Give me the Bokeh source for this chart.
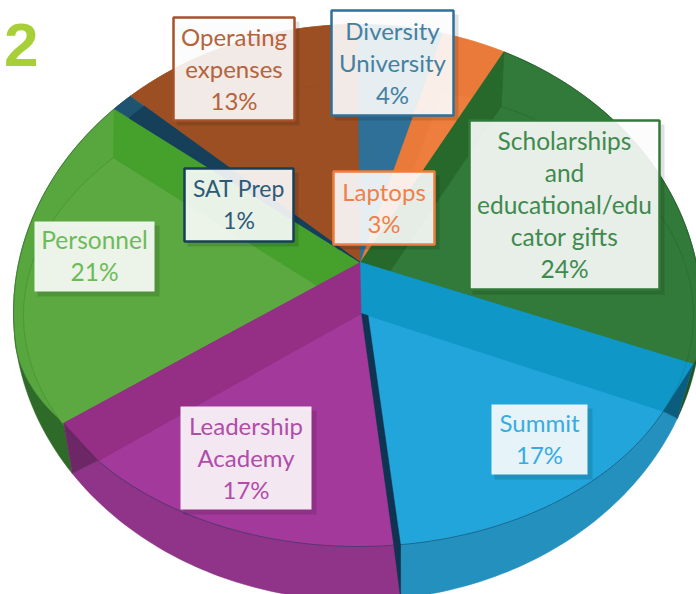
import numpy as np
from bokeh.plotting import figure
from bokeh.embed import file_html
from bokeh.resources import INLINE
from bokeh.core.properties import value

# ---- data (clockwise from the top of the pie)
categories = ["Diversity University", "Laptops", "Scholarships and educational/educator gifts",
              "Summit", "Leadership Academy", "Personnel", "SAT Prep", "Operating expenses"]
shares = [4, 3, 24, 17, 17, 21, 1, 13]
label_lines = [["Diversity", "University", "4%"], ["Laptops", "3%"],
               ["Scholarships", "and", "educational/edu", "cator gifts", "24%"],
               ["Summit", "17%"], ["Leadership", "Academy", "17%"],
               ["Personnel", "21%"], ["SAT Prep", "1%"], ["Operating", "expenses", "13%"]]
corner_text = "2"

# ---- colours (same order)
face = ["#2F7098", "#EE7E3E", "#317A39", "#22A5DB", "#A3399A", "#5CA941", "#163F59", "#9C4F23"]
ring = ["#2F7098", "#EA7A3A", "#317A39", "#0F97C8", "#93307F", "#57A73E", "#1F5470", "#9C4F23"]
band = ["#2C6A92", "#E06F30", "#27682B", "#0F97C8", "#952F85", "#45A02C", "#163F59", "#984B20"]
wall = ["#2F7098", "#EA7A3A", "#1E5426", "#2490BE", "#8F3488", "#2E6B28", "#163F59", "#9C4F23"]
ink = ["#44819F", "#EF8049", "#3F8A4E", "#38ACE0", "#B14DA9", "#6DBB58", "#2C5B78", "#B5633B"]
edge = ["#2F7098", "#EE7E3E", "#317A39", None, None, None, "#163F59", "#A8512A"]

# ---- layout (page pixels)
W, H = 696, 594
APEX = (360, 262)
VERTEX = (361, 313)
E1 = (357, 312, 344, 288)
E0 = (360, 250, 358, 309)
E2 = (358, 315, 335, 231)
boxes = [(331, 10, 453, 115), (333, 171, 434, 244), (469, 120, 659, 289), (491, 404, 587, 474),
         (180, 406, 311, 509), (34, 221, 154, 291), (184, 168, 293, 241), (173, 17, 294, 120)]
LEAD = 32
FONT_PX = ["24px", "24px", "24.5px", "24px", "24px", "24.5px", "23px", "24px"]


def warp(d):
    return np.interp(d, [0, 111.6, 172.8, 234, 309.6, 313.2, 360],
                     [0, 111.6, 172.8, 236, 315, 318.7, 360])


def warp2(d):
    return np.interp(d, [0, 25.2, 111.6, 172.8, 234, 309.6, 360],
                     [0, 25.2, 114.5, 172.8, 231, 313, 360])


def ell(e, d):
    t = np.radians(d)
    return e[0] + e[2] * np.sin(t), e[1] - e[3] * np.cos(t)


def rim(d):
    x1, y1 = ell(E1, d)
    x0, y0 = ell(E0, d)
    w = np.interp(d, [0, 80, 111.6, 236, 265, 360], [0, 0, 1, 1, 0, 0])
    return x1 + w * (x0 - x1), y1 + w * (y0 - y1)


def inner(d):
    return ell(E2, warp2(d))


def cross(a, b, c, d):
    ax, ay = a; bx, by = b; cx, cy = c; dx, dy = d
    rx, ry = bx - ax, by - ay
    sx, sy = dx - cx, dy - cy
    u = ((cx - ax) * sy - (cy - ay) * sx) / (rx * sy - ry * sx)
    return ax + u * rx, ay + u * ry


cum = np.concatenate([[0], np.cumsum(shares)]) * 3.6
layers = []


def poly(xs, ys, col):
    layers.append((list(map(float, xs)), list(map(float, ys)), col))


def body(i):
    ds0 = np.linspace(cum[i], cum[i + 1], 60)
    ds = warp(ds0)
    x, y = rim(ds)
    poly([APEX[0], *x], [APEX[1], *y], ring[i])
    x1, y1 = ell(E1, ds)
    if i in (3, 4):
        x2, y2 = inner(ds0)
    else:
        x2, y2 = x, y
    poly([*x1, *x2[::-1]], [*y1, *y2[::-1]], wall[i])


def top(i, band_at=None):
    a, b = cum[i], cum[i + 1]
    ds = np.linspace(a + (1.2 if i == 4 else 0), b, 60)
    x, y = inner(ds)
    poly([VERTEX[0], *x], [VERTEX[1], *y], face[i])
    if band_at is not None:
        d = cum[band_at]
        wd = warp(d)
        rx, ry = rim(wd)
        ex, ey = inner(d)
        poly([APEX[0], rx, ex, VERTEX[0]], [APEX[1], ry, ey, VERTEX[1]], band[i])
        bx, by = ell(E1, wd)
        if i in (3, 4):
            poly([rx, ex, bx], [ry, ey, by], "#0C5C7E" if i == 3 else "#6E2766")


body(7); top(7)
body(5); top(5, band_at=6)
body(6)
sat_x, sat_y = rim(warp(np.linspace(cum[6], cum[7], 8)))
poly([APEX[0], *(APEX[0] + 0.94 * (sat_x - APEX[0]))], [APEX[1], *(APEX[1] + 0.94 * (sat_y - APEX[1]))], face[6])
body(0); top(0)
body(1); top(1)
body(2); top(2, band_at=2)
body(4); top(4, band_at=5)
body(3); top(3, band_at=3)

# dark cut along the Summit / Leadership edge
sx, sy = inner(cum[4])
px, py = inner(cum[4] + 1.2)
qx, qy = inner(cum[3])
X = cross(APEX, (sx, sy), VERTEX, (qx, qy))
bx, by = ell(E1, cum[4])
poly([X[0], sx, px, VERTEX[0]], [X[1], sy, py, VERTEX[1]], "#0F3350")
poly([sx, px, bx], [sy, py, by], "#0F3350")

p = figure(width=W, height=H, x_range=(0, W), y_range=(H, 0), output_backend="svg",
           toolbar_location=None, min_border=0, outline_line_color=None,
           styles={"position": "absolute", "left": "0px", "top": "0px"})
p.axis.visible = False
p.grid.visible = False
p.background_fill_color = "white"

p.patches([l[0] for l in layers], [l[1] for l in layers],
          fill_color=[l[2] for l in layers], line_color=[l[2] for l in layers], line_width=0.5)

fx, fy = inner(np.linspace(cum[3], cum[5], 120))
p.line(fx, fy, line_color="#1B3A55", line_alpha=0.55, line_width=1)
for a, b in ((cum[2], cum[3]), (cum[5], cum[6])):
    fx, fy = inner(np.linspace(a, b, 60))
    p.line(fx, fy, line_color="#123A18", line_alpha=0.15, line_width=1)

# label boxes
for i, (x0, y0, x1, y1) in enumerate(boxes):
    cx, cy = (x0 + x1) / 2, (y0 + y1) / 2 - 1
    p.quad(left=[x0 + 3], right=[x1 + 5], top=[y0 + 4], bottom=[y1 + 5],
           fill_color="#000000", fill_alpha=0.12, line_color=None)
    p.quad(left=[x0], right=[x1], top=[y0], bottom=[y1], fill_color="#FFFFFF", fill_alpha=0.89,
           line_color=edge[i] if edge[i] else None, line_width=2.5)
    n = len(label_lines[i])
    ys = [cy + (k - (n - 1) / 2) * LEAD for k in range(n)]
    p.text(x=[cx] * n, y=ys, text=label_lines[i], text_color=ink[i], text_font=value("Lato"),
           text_font_size=FONT_PX[i], text_align="center", text_baseline="middle")

p.text(x=[38], y=[44], text=[corner_text], text_color="#A6CF38", text_font=value("Liberation Sans"),
       text_font_style="bold", text_font_size="62px", text_align="right", text_baseline="middle")

open("out.html", "w").write(file_html(p, INLINE))
